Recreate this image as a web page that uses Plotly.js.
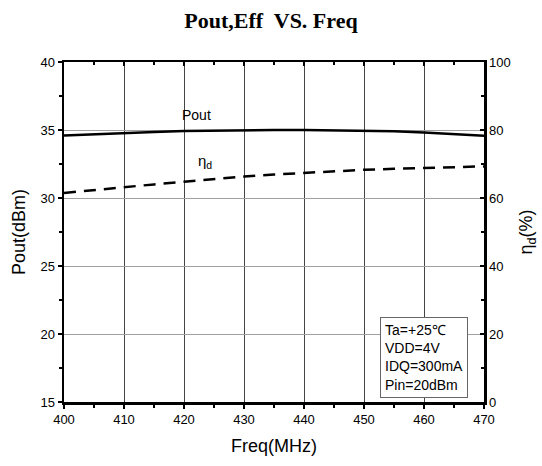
<!DOCTYPE html>
<html>
<head>
<meta charset="utf-8">
<script src="https://cdn.plot.ly/plotly-3.0.1.min.js"></script>
<style>html,body{margin:0;padding:0;background:#fff}#chart{width:542px;height:466px}</style>
</head>
<body>
<div id="chart"></div>
<script>
var freq = [400,405,410,415,420,425,430,435,440,445,450,455,460,465,470];
var pout = [34.6,34.7,34.78,34.85,34.92,34.96,34.99,35.0,35.0,34.98,34.95,34.9,34.82,34.72,34.58];
var eff  = [61.5,62.4,63.2,64.0,64.8,65.6,66.3,66.9,67.4,67.9,68.3,68.6,68.9,69.1,69.3];
var conditions = ["Ta=+25℃","VDD=4V","IDQ=300mA","Pin=20dBm"];

var font = "Liberation Sans, Arial, sans-serif";
var traces = [
  {x: freq, y: pout, type:'scatter', mode:'lines', line:{color:'#000', width:2.5}, xaxis:'x', yaxis:'y', showlegend:false, hoverinfo:'skip'},
  {x: freq, y: eff, type:'scatter', mode:'lines', line:{color:'#000', width:2.5, dash:'12px,8px'}, xaxis:'x2', yaxis:'y2', showlegend:false, hoverinfo:'skip'}
];
var layout = {
  width:542, height:466,
  margin:{l:64, r:58, t:62, b:64},
  paper_bgcolor:'#fff', plot_bgcolor:'#fff',
  font:{family:font, size:13, color:'#000'},
  title:{text:'<b>Pout,Eff  VS. Freq</b>', font:{family:'Liberation Serif, Times New Roman, serif', size:22, color:'#000'}, x:0.5, xanchor:'center', y:0.957, yanchor:'middle'},
  xaxis:{range:[400,470], dtick:10, tick0:400, showgrid:true, gridcolor:'#444', gridwidth:1,
    showline:true, linecolor:'#000', linewidth:2.5, ticks:'outside', ticklen:4, tickwidth:2, tickcolor:'#000',
    minor:{dtick:5, ticks:'outside', ticklen:3, tickwidth:2, tickcolor:'#000', showgrid:false},
    zeroline:false, tickfont:{size:13},
    title:{text:'Freq(MHz)', font:{size:18}, standoff:14}},
  xaxis2:{range:[400,470], dtick:10, tick0:400, overlaying:'x', side:'top', anchor:'y', showgrid:false,
    showline:true, linecolor:'#000', linewidth:2.5, ticks:'inside', ticklen:4, tickwidth:2, tickcolor:'#000',
    minor:{dtick:5, ticks:'inside', ticklen:3, tickwidth:2, tickcolor:'#000', showgrid:false},
    showticklabels:false, zeroline:false},
  yaxis:{range:[15,40], dtick:5, tick0:15, showgrid:true, gridcolor:'#a0a0a0', gridwidth:1,
    showline:true, linecolor:'#000', linewidth:2.5, ticks:'outside', ticklen:4, tickwidth:2, tickcolor:'#000',
    minor:{dtick:2.5, ticks:'outside', ticklen:3, tickwidth:2, tickcolor:'#000', showgrid:false},
    zeroline:false, tickfont:{size:13},
    title:{text:'Pout(dBm)', font:{size:18}, standoff:10}},
  yaxis2:{range:[0,100], dtick:20, tick0:0, overlaying:'y', side:'right', anchor:'x', showgrid:false,
    showline:true, linecolor:'#000', linewidth:2.5, ticks:'inside', ticklen:4, tickwidth:2, tickcolor:'#000',
    minor:{dtick:10, ticks:'inside', ticklen:3, tickwidth:2, tickcolor:'#000', showgrid:false},
    zeroline:false, tickfont:{size:13},
    title:{text:'η<sub>d</sub>(%)', font:{size:18}, standoff:10}},
  annotations:[
    {x:422, y:36.1, xref:'x', yref:'y', text:'Pout', showarrow:false, font:{size:14}},
    {x:423.5, y:32.7, xref:'x', yref:'y', text:'η<sub>d</sub>', showarrow:false, font:{size:15}},
    {x:0.752, y:0.012, xref:'paper', yref:'paper', xanchor:'left', yanchor:'bottom', align:'left',
     text:conditions.join('<br>'), showarrow:false, font:{size:14}, bordercolor:'#666', borderwidth:1, borderpad:4, bgcolor:'#fff'}
  ]
};
Plotly.newPlot('chart', traces, layout, {displayModeBar:false, staticPlot:true});
</script>
</body>
</html>
